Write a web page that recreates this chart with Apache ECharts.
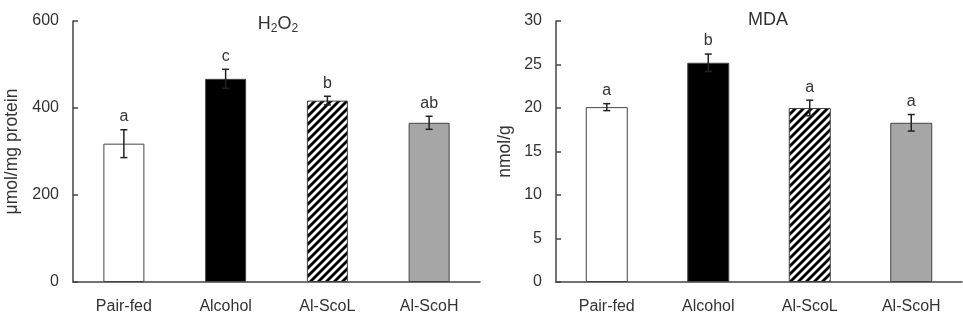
<!DOCTYPE html>
<html>
<head>
<meta charset="utf-8">
<script src="https://cdn.jsdelivr.net/npm/echarts@6/dist/echarts.min.js"></script>
<style>
  html, body { margin: 0; padding: 0; background: #fff; }
  #chart { width: 963px; height: 322px; }
</style>
</head>
<body>
<div id="chart"></div>
<script>
const categories = ['Pair-fed', 'Alcohol', 'Al-ScoL', 'Al-ScoH'];
const h2o2Mean = [318, 467, 417, 366];
const h2o2Err = [32, 22, 10, 15];
const h2o2Sig = ['a', 'c', 'b', 'ab'];
const mdaMean = [20.1, 25.2, 20.0, 18.3];
const mdaErr = [0.4, 1.0, 0.9, 0.95];
const mdaSig = ['a', 'b', 'a', 'a'];
const h2o2Ticks = [0, 200, 400, 600];
const mdaTicks = [0, 5, 10, 15, 20, 25, 30];

const FONT = "'Liberation Sans', Arial, sans-serif";
const TEXT = '#333';
const AXIS = '#444';

// diagonal hatch for Al-ScoL
function hatch() {
    const c = document.createElement('canvas');
    c.width = 8;
    c.height = 8;
    const ctx = c.getContext('2d');
    ctx.fillStyle = '#fff';
    ctx.fillRect(0, 0, 8, 8);
    ctx.strokeStyle = '#000';
    ctx.lineWidth = 2.8;
    [0, 8, 16].forEach(k => {
        ctx.beginPath();
        ctx.moveTo(k + 1, -1);
        ctx.lineTo(k - 9, 9);
        ctx.stroke();
    });
    return c;
}

const fills = ['#fff', '#000', { image: hatch(), repeat: 'repeat' }, '#a6a6a6'];

const barData = means => means.map((v, i) => ({
    value: v,
    itemStyle: { color: fills[i], borderColor: AXIS, borderWidth: 1 }
}));

const errorSeries = (means, errs, sigs, idx) => ({
    type: 'custom',
    xAxisIndex: idx,
    yAxisIndex: idx,
    z: 5,
    data: means.map((m, i) => [i, m, errs[i]]),
    renderItem: (params, api) => {
        const x = api.value(0), m = api.value(1), e = api.value(2);
        const top = api.coord([x, m + e]);
        const bot = api.coord([x, m - e]);
        const w = 3.5;
        const style = { stroke: '#222', lineWidth: 1.5 };
        return {
            type: 'group',
            children: [
                { type: 'line', shape: { x1: top[0], y1: top[1], x2: bot[0], y2: bot[1] }, style },
                { type: 'line', shape: { x1: top[0] - w, y1: top[1], x2: top[0] + w, y2: top[1] }, style },
                { type: 'line', shape: { x1: bot[0] - w, y1: bot[1], x2: bot[0] + w, y2: bot[1] }, style },
                {
                    type: 'text',
                    style: {
                        text: sigs[params.dataIndex],
                        x: top[0], y: top[1] - 5,
                        align: 'center', verticalAlign: 'bottom',
                        fill: TEXT, font: '16px ' + FONT
                    }
                }
            ]
        };
    }
});

const xAxis = idx => ({
    type: 'category',
    gridIndex: idx,
    data: categories,
    axisLine: { lineStyle: { color: AXIS, width: 1.5 } },
    axisTick: { inside: true, length: 5, lineStyle: { color: AXIS, width: 1.5 } },
    axisLabel: { color: TEXT, fontSize: 16, fontFamily: FONT, margin: 17 }
});

const yAxis = (idx, ticks, name, gap) => ({
    type: 'value',
    gridIndex: idx,
    min: ticks[0],
    max: ticks[ticks.length - 1],
    interval: ticks[1] - ticks[0],
    name: name,
    nameLocation: 'middle',
    nameGap: gap,
    nameTextStyle: { color: TEXT, fontSize: 17.5, fontFamily: FONT },
    splitLine: { show: false },
    axisLine: { show: true, lineStyle: { color: AXIS, width: 1.5 } },
    axisTick: { show: true, inside: true, length: 5, lineStyle: { color: AXIS, width: 1.5 } },
    axisLabel: { color: TEXT, fontSize: 16, fontFamily: FONT, margin: 14 }
});

const chart = echarts.init(document.getElementById('chart'));

chart.setOption({
    animation: false,
    title: [
        {
            text: '{n|H}{s|2}{n|O}{s|2}',
            left: 278, top: 14, textAlign: 'center', padding: 0,
            textStyle: {
                fontWeight: 'normal',
                rich: {
                    n: { fontSize: 18, fontFamily: FONT, color: TEXT, fontWeight: 'normal' },
                    s: { fontSize: 12, fontFamily: FONT, color: TEXT, fontWeight: 'normal', padding: [9, 0, 0, 0] }
                }
            }
        },
        {
            text: 'MDA',
            left: 768, top: 11, textAlign: 'center', padding: 0,
            textStyle: { fontSize: 18, fontFamily: FONT, color: TEXT, fontWeight: 'normal' }
        }
    ],
    grid: [
        { left: 73, right: 483, top: 21, bottom: 40 },
        { left: 556, right: 1, top: 21, bottom: 40 }
    ],
    xAxis: [xAxis(0), xAxis(1)],
    yAxis: [
        yAxis(0, h2o2Ticks, 'μmol/mg protein', 52),
        yAxis(1, mdaTicks, 'nmol/g', 42)
    ],
    series: [
        { type: 'bar', xAxisIndex: 0, yAxisIndex: 0, barWidth: 41, data: barData(h2o2Mean) },
        { type: 'bar', xAxisIndex: 1, yAxisIndex: 1, barWidth: 42, data: barData(mdaMean) },
        errorSeries(h2o2Mean, h2o2Err, h2o2Sig, 0),
        errorSeries(mdaMean, mdaErr, mdaSig, 1)
    ]
});
</script>
</body>
</html>
